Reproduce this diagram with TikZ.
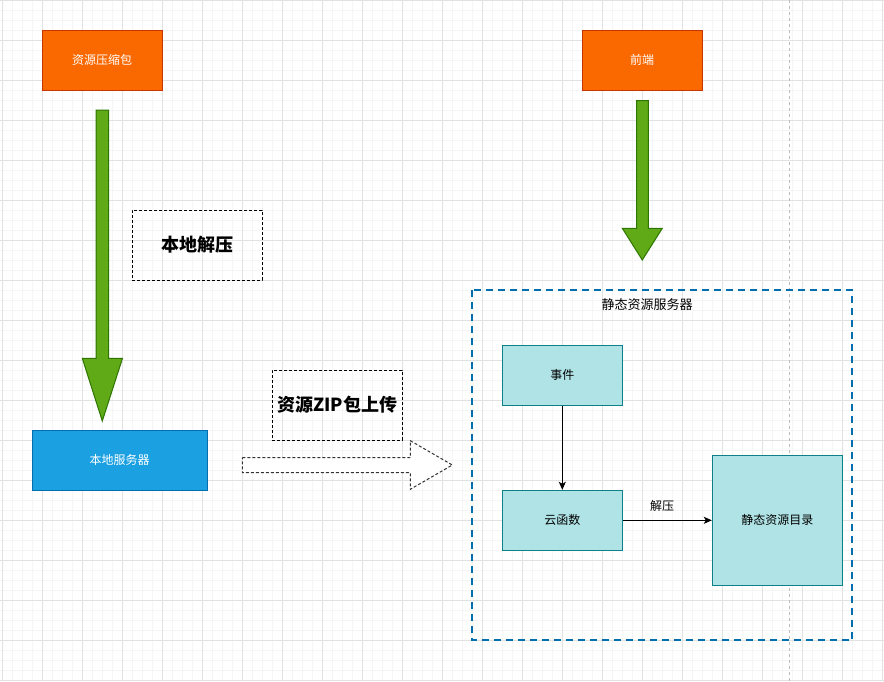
\documentclass[tikz,border=0pt]{standalone}
\usepackage{fontspec}
\setmainfont{Noto Sans CJK SC}
\usetikzlibrary{arrows.meta}
\definecolor{orangeF}{HTML}{FA6800}
\definecolor{orangeD}{HTML}{C73500}
\definecolor{greenF}{HTML}{60A917}
\definecolor{greenD}{HTML}{2D7600}
\definecolor{blueF}{HTML}{1BA1E2}
\definecolor{blueD}{HTML}{006EAF}
\definecolor{tealF}{HTML}{B0E3E6}
\definecolor{tealD}{HTML}{0E8088}
\definecolor{gridmaj}{HTML}{E2E2E2}
\definecolor{gridmin}{HTML}{F5F5F5}
\definecolor{pagebrk}{HTML}{BBBBBB}
\begin{document}
\begin{tikzpicture}[x=1pt,y=-1pt,
  txt/.style={font=\fontsize{12pt}{14pt}\selectfont},
  orangebox/.style={draw=orangeD,fill=orangeF,text=white,line width=1pt,minimum width=120pt,minimum height=60pt,inner sep=0pt,txt},
  bluebox/.style={draw=blueD,fill=blueF,text=white,line width=1pt,minimum width=175pt,minimum height=60pt,inner sep=0pt,txt},
  tealbox/.style={draw=tealD,fill=tealF,text=black,line width=1pt,minimum width=120pt,minimum height=60pt,inner sep=0pt,txt},
  dashbox/.style={draw=black,dash pattern=on 3pt off 2pt,line width=1pt,minimum width=130pt,minimum height=70pt,inner sep=0pt,font=\fontsize{18pt}{21pt}\selectfont\bfseries},
  greenarrow/.style={draw=greenD,fill=greenF,line width=1pt,line join=miter},
  hollowarrow/.style={draw=black!80,fill=white,dash pattern=on 3pt off 2pt,line width=1pt},
  container/.style={draw=blueD,dash pattern=on 7pt off 5pt,line width=2pt},
  edge/.style={draw=black,line width=1pt,-{Stealth[length=8pt,width=7pt,inset=2pt]}},
  gridminor/.style={draw=gridmin,line width=1pt},
  gridmajor/.style={draw=gridmaj,line width=1pt}
]
\useasboundingbox (0,0) rectangle (884,681);
\fill[white] (0,0) rectangle (884,681);
% grid
\foreach \x in {2,12,...,882} \draw[gridminor] (\x,0) -- (\x,681);
\foreach \y in {0,10,...,680} \draw[gridminor] (0,\y) -- (884,\y);
\foreach \x in {2,42,...,882} \draw[gridmajor] (\x,0) -- (\x,681);
\foreach \y in {0,40,...,680} \draw[gridmajor] (0,\y) -- (884,\y);
% page break line
\draw[pagebrk,line width=1pt,dash pattern=on 3pt off 3pt] (789.5,0) -- (789.5,681);

% top boxes
\node[orangebox] (zip) at (102,60) {资源压缩包};
\node[orangebox] (fe) at (642,60) {前端};

% green arrows
\draw[greenarrow] (96,110) -- (108.5,110) -- (108.5,358.3) -- (122.5,358.3) -- (102.3,421) -- (82.3,358.3) -- (96,358.3) -- cycle;
\draw[greenarrow] (636.7,100.7) -- (648.3,100.7) -- (648.3,228.3) -- (662.3,228.3) -- (642.3,260) -- (622.3,228.3) -- (636.7,228.3) -- cycle;

% dashed labels
\node[dashbox] (unz) at (197,245) {本地解压};
\node[dashbox] (upl) at (337.3,405) {资源ZIP包上传};

% local server
\node[bluebox] (srv) at (119.5,460) {本地服务器};

% hollow arrow
\draw[hollowarrow] (242.3,457.7) -- (410.3,457.7) -- (410.3,440.7) -- (452.3,465) -- (410.3,489.3) -- (410.3,472.7) -- (242.3,472.7) -- cycle;

% container
\draw[container] (471.7,290) rectangle (852.3,640);
\node[font=\fontsize{13pt}{15pt}\selectfont] (ctl) at (647,305) {静态资源服务器};

\node[tealbox] (ev) at (562.3,375.3) {事件};
\node[tealbox] (cf) at (562.3,520.3) {云函数};
\node[tealbox,minimum width=130pt,minimum height=130pt] (dir) at (777.3,520.3) {静态资源目录};

\draw[edge] (ev) -- (cf);
\draw[edge] (cf) -- (dir);
\node[txt] (lbl) at (662,505.5) {解压};
\end{tikzpicture}
\end{document}
